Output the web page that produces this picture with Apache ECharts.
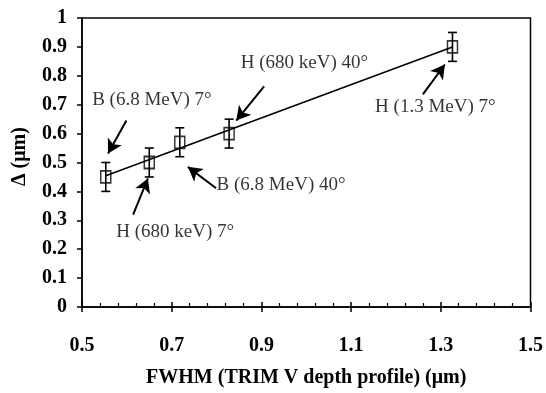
<!DOCTYPE html>
<html><head><meta charset="utf-8">
<script src="https://cdn.jsdelivr.net/npm/echarts@6/dist/echarts.min.js"></script>
<style>html,body{margin:0;padding:0;background:#fff}#c{width:546px;height:393px}</style>
</head><body><div id="c"></div>
<script>
const fwhm = [0.553, 0.650, 0.718, 0.828, 1.326];
const delta = [0.45, 0.50, 0.57, 0.60, 0.90];
const errs = [0.05, 0.05, 0.05, 0.05, 0.05];
const fitX = [0.553, 1.326];
const fitY = [0.454, 0.900];
const xTicks = ['0.5', '0.7', '0.9', '1.1', '1.3', '1.5'];
const notes = ['B (6.8 MeV) 7°', 'H (680 keV) 40°', 'H (1.3 MeV) 7°', 'B (6.8 MeV) 40°', 'H (680 keV) 7°'];
const noteX = [0.657, 0.997, 1.289, 0.945, 0.709];
const noteY = [0.716, 0.843, 0.691, 0.422, 0.257];
const arrowFromX = [0.599, 0.906, 1.260, 0.799, 0.614];
const arrowFromY = [0.645, 0.763, 0.736, 0.411, 0.320];
const arrowToX = [0.558, 0.844, 1.309, 0.736, 0.647];
const arrowToY = [0.531, 0.645, 0.839, 0.485, 0.445];
const X0 = 0.5; // x axis drawn as offset from 0.5 so ticks start at 0.5

const FONT = 'Liberation Serif';
const chart = echarts.init(document.getElementById('c'), null, {renderer: 'canvas'});

const pts = fwhm.map((x, i) => [x - X0, delta[i], errs[i]]);
const fit = fitX.map((x, i) => [x - X0, fitY[i]]);
const noteData = notes.map((t, i) => ({value: [noteX[i] - X0, noteY[i]], label: {formatter: t}}));
const arrows = notes.map((t, i) => [
  {coord: [arrowFromX[i] - X0, arrowFromY[i]]},
  {coord: [arrowToX[i] - X0, arrowToY[i]]}
]);

const axisLineStyle = {color: '#000', width: 1.5};

chart.setOption({
  animation: false,
  backgroundColor: '#fff',
  grid: {left: 82, right: 13, top: 18, bottom: 83, show: true, borderColor: '#000', borderWidth: 1.5, backgroundColor: 'transparent'},
  xAxis: [{
    type: 'value', min: 0, max: 1, interval: 0.2,
    axisLine: {show: true, onZero: false, lineStyle: axisLineStyle},
    axisTick: {show: true, inside: false, length: 5, lineStyle: axisLineStyle},
    axisLabel: {
      margin: 29, color: '#000', fontFamily: FONT, fontWeight: 'bold', fontSize: 20,
      formatter: v => xTicks[Math.round(v / 0.2)]
    },
    splitLine: {show: false},
    name: 'FWHM (TRIM V depth profile) (μm)', nameLocation: 'middle', nameGap: 61,
    nameTextStyle: {color: '#000', fontFamily: FONT, fontWeight: 'bold', fontSize: 20}
  }, {
    type: 'value', min: 0, max: 1, interval: 0.2, position: 'bottom',
    axisLine: {show: false},
    axisTick: {show: true, inside: true, length: 5, lineStyle: axisLineStyle},
    minorTick: {show: true, splitNumber: 5, length: 4, lineStyle: {color: '#000', width: 1.2}},
    axisLabel: {show: false},
    splitLine: {show: false}
  }],
  yAxis: {
    type: 'value', min: 0, max: 1, interval: 0.1,
    axisLine: {show: true, lineStyle: axisLineStyle},
    axisTick: {show: true, inside: false, length: 5, lineStyle: axisLineStyle},
    axisLabel: {margin: 15, color: '#000', fontFamily: FONT, fontWeight: 'bold', fontSize: 20},
    splitLine: {show: false},
    name: 'Δ (μm)', nameLocation: 'middle', nameGap: 52, nameRotate: 90,
    nameTextStyle: {color: '#000', fontFamily: FONT, fontWeight: 'bold', fontSize: 20, padding: [0, 0, 0, 12]}
  },
  series: [
    {
      type: 'line', data: fit, symbol: 'none', silent: true,
      lineStyle: {color: '#000', width: 1.6}
    },
    {
      type: 'custom', data: pts, silent: true,
      renderItem: function (params, api) {
        const x = api.value(0), y = api.value(1), e = api.value(2);
        const top = api.coord([x, y + e]);
        const bot = api.coord([x, y - e]);
        const hw = 4.5;
        const st = {stroke: '#000', lineWidth: 1.6};
        return {type: 'group', children: [
          {type: 'line', shape: {x1: top[0], y1: top[1], x2: bot[0], y2: bot[1]}, style: st},
          {type: 'line', shape: {x1: top[0] - hw, y1: top[1], x2: top[0] + hw, y2: top[1]}, style: st},
          {type: 'line', shape: {x1: bot[0] - hw, y1: bot[1], x2: bot[0] + hw, y2: bot[1]}, style: st}
        ]};
      }
    },
    {
      type: 'scatter', data: pts, symbol: 'rect', symbolSize: [10, 12], silent: true,
      itemStyle: {color: 'transparent', borderColor: '#000', borderWidth: 1.6}
    },
    {
      type: 'scatter', data: noteData, symbolSize: 1, silent: true,
      itemStyle: {color: 'transparent'},
      label: {show: true, position: [0, 0], align: 'center', verticalAlign: 'middle',
        color: '#000', fontFamily: FONT, fontSize: 19},
      markLine: {
        silent: true, symbol: ['none', 'arrow'], symbolSize: [12, 14], precision: 4,
        label: {show: false},
        lineStyle: {color: '#000', width: 2, type: 'solid'},
        data: arrows
      }
    }
  ]
});
</script>
</body></html>
